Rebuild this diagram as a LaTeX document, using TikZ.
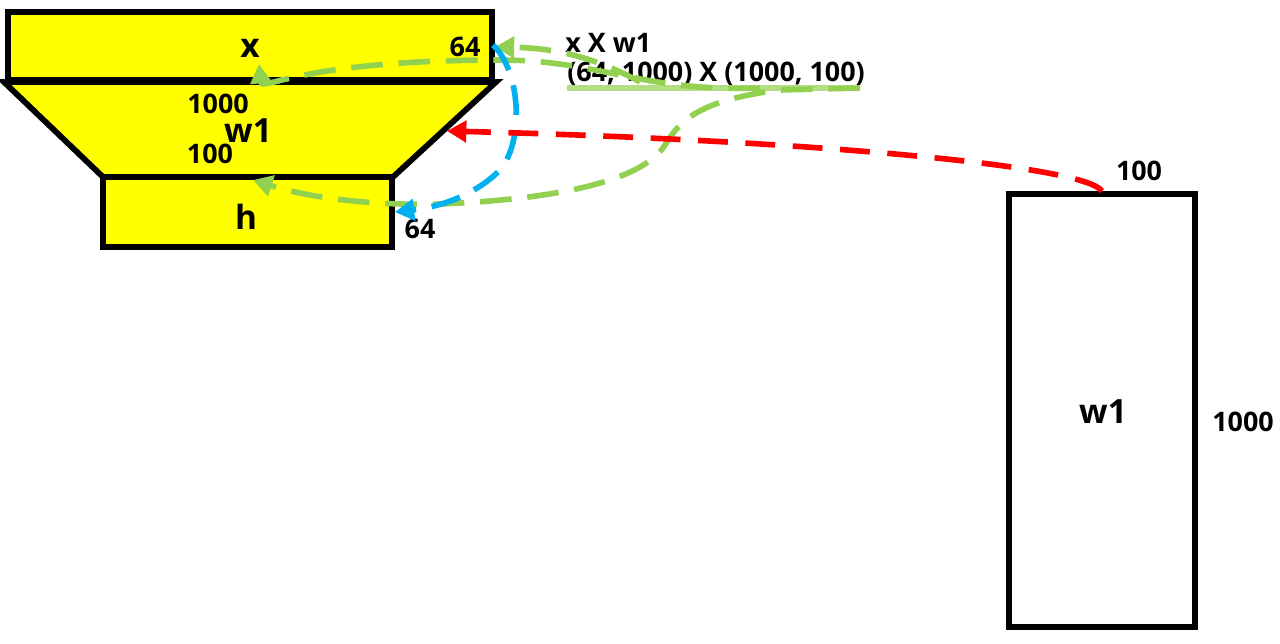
\documentclass[tikz,border=0pt]{standalone}
\usepackage{fontspec}
\setmainfont{Open Sans}
\usetikzlibrary{arrows.meta, positioning}
\definecolor{boxyellow}{HTML}{FFFF00}
\definecolor{flowgreen}{HTML}{92D050}
\definecolor{flowblue}{HTML}{00B0F0}
\definecolor{flowred}{HTML}{FF0000}

\begin{document}
\begin{tikzpicture}[x=0.02cm, y=-0.02cm, >={Triangle[length=11pt,width=12pt]},
  blk/.style={draw=black, line width=3.3pt, inner sep=0pt},
  num/.style={font=\bfseries\fontsize{15.3}{17}\selectfont, inner sep=0pt},
  big/.style={font=\bfseries\fontsize{19}{21}\selectfont, inner sep=0pt},
  gflow/.style={draw=flowgreen, line width=3.2pt, dash pattern=on 18pt off 9pt},
  bflow/.style={draw=flowblue, line width=3.2pt, dash pattern=on 17pt off 9pt},
  rflow/.style={draw=flowred, line width=3.2pt, dash pattern=on 17pt off 10pt}]
  \useasboundingbox (0,0) rectangle (1280,643);

  % Bloky
  \node[blk, fill=boxyellow, minimum width=9.68cm, minimum height=1.36cm] (xbox) at (250,46) {};
  \draw[line width=3.3pt, fill=boxyellow, line join=miter]
    (4,82) coordinate (tl) -- (496,82) coordinate (tr) -- (393,177) coordinate (br) -- (103,177) coordinate (bl) -- cycle;
  \node[blk, fill=boxyellow, minimum width=5.78cm, minimum height=1.4cm] (hbox) at (247.5,212) {};
  \node[blk, fill=white, minimum width=3.72cm, minimum height=8.66cm] (wbox) at (1102,410.5) {};
  \coordinate (w1edge) at (447,131);

  % Popisky
  \node[big] (xlbl) at (250,48) {x};
  \node[num] (d1000) at (218,104) {1000};
  \node[big] (w1lbl) at (248,131) {w1};
  \node[num] (d100) at (210,154) {100};
  \node[big] (hlbl) at (246,217) {h};
  \node[num] (xdim) at (465,47) {64};
  \node[num] (hdim) at (420,229) {64};
  \node[num, anchor=west] (prod) at (565,43) {x X w1};
  \node[num, anchor=west] (expr) at (567,74) {(64, 1000) X (1000, 100)};
  \node[num] (wtop) at (1139,171) {100};
  \node[big] (wlbl) at (1103,412) {w1};
  \node[num] (wside) at (1243,422) {1000};
  \coordinate (xin) at (259,64);
  \coordinate (hin) at (253,180);

  % Propojení
  \draw[draw=flowgreen!70, line width=3.2pt] (567,88) coordinate (ul1) -- (860,88) coordinate (ul2);
  \draw[gflow, ->] (640,82) .. controls (600,60) and (560,48) .. (xbox.east |- xdim.east);
  \draw[gflow, ->] (760,88) .. controls (640,92) and (600,60) .. (500,60) .. controls (300,60) and (262,92) .. (xin);
  \draw[gflow, ->] (ul2) -- (780,90) .. controls (700,100) and (680,120) .. (665,145)
    .. controls (640,185) and (540,200) .. (440,204) .. controls (360,206) and (300,195) .. (hin);
  \draw[bflow, ->] (493,45) .. controls (520,70) and (525,140) .. (500,170) .. controls (470,200) and (430,208) .. (hbox.east);
  \draw[rflow, ->] (wbox.north) .. controls (1085,165) and (800,140) .. (w1edge);
\end{tikzpicture}
\end{document}
